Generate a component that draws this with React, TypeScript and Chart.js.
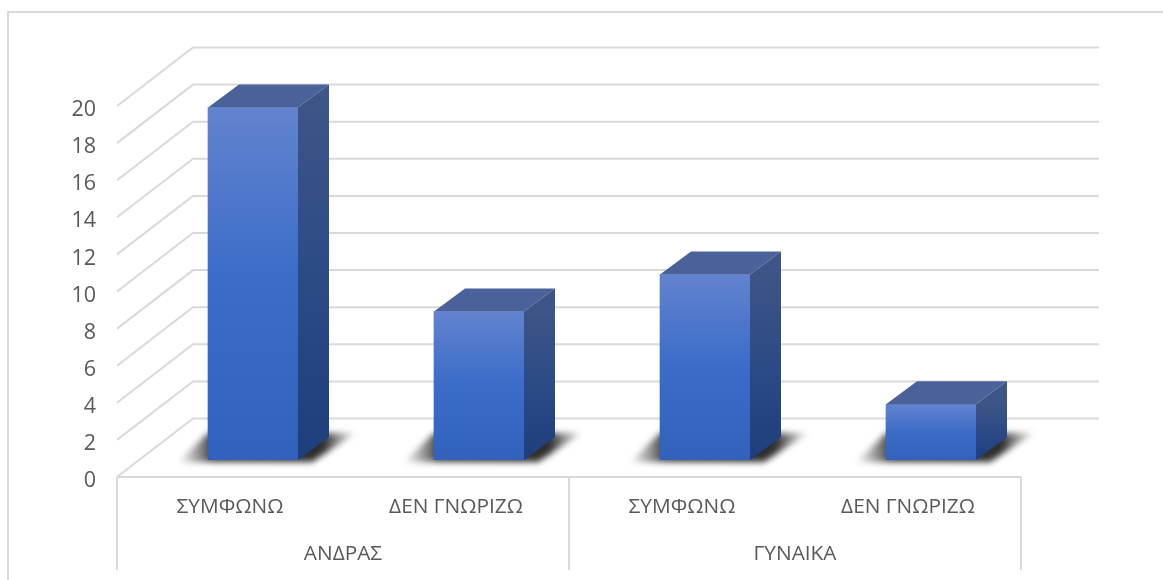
import React, { useEffect, useRef } from "react";
import { Chart, registerables } from "chart.js";

Chart.register(...registerables);

const categories = ["ΣΥΜΦΩΝΩ", "ΔΕΝ ΓΝΩΡΙΖΩ", "ΣΥΜΦΩΝΩ", "ΔΕΝ ΓΝΩΡΙΖΩ"];
const groups = ["ΑΝΔΡΑΣ", "ΓΥΝΑΙΚΑ"];
const values = [19, 8, 10, 3];

const FONT = "'Open Sans', sans-serif";
const TEXT = "#595959";
const GRID = "#d9d9d9";
const WALL_DX = 76;
const WALL_DY = -58.5;
const BAR_DX = 23;
const BAR_DY = -17;
const SIDE_DX = 31;
const SIDE_DY = -23;

function gradient(c: CanvasRenderingContext2D, x0: number, y0: number, x1: number, y1: number, stops: [number, string][]) {
  const g = c.createLinearGradient(x0, y0, x1, y1);
  stops.forEach(([o, col]) => g.addColorStop(o, col));
  return g;
}

function poly(c: CanvasRenderingContext2D, pts: number[][], fill: any) {
  c.beginPath();
  pts.forEach(([x, y], i) => (i ? c.lineTo(x, y) : c.moveTo(x, y)));
  c.closePath();
  c.fillStyle = fill;
  c.fill();
}

const scene3d = {
  id: "scene3d",
  beforeDraw(chart: any) {
    const c = chart.ctx as CanvasRenderingContext2D;
    const y = chart.scales.y;
    const x = chart.scales.x;
    c.save();
    c.fillStyle = "#ffffff";
    c.fillRect(0, 0, chart.width, chart.height);
    c.strokeStyle = GRID;
    c.lineWidth = 2;
    // outer frame
    c.beginPath();
    c.moveTo(8, 580);
    c.lineTo(8, 12);
    c.lineTo(1163, 12);
    c.stroke();
    // wall grid
    y.ticks.forEach((t: any) => {
      const py = y.getPixelForValue(t.value);
      c.beginPath();
      c.moveTo(x.left, py);
      c.lineTo(x.left + WALL_DX, py + WALL_DY);
      c.lineTo(x.right + WALL_DX + 2, py + WALL_DY);
      c.stroke();
    });
    // floor front edge and group separators
    const b = y.getPixelForValue(0);
    c.beginPath();
    c.moveTo(x.left, b);
    c.lineTo(x.right, b);
    [x.left, (x.left + x.right) / 2, x.right].forEach((sx: number) => {
      c.moveTo(sx, b);
      c.lineTo(sx, 570);
    });
    c.stroke();
    c.restore();
  },
  beforeDatasetDraw(chart: any, args: any) {
    const c = chart.ctx as CanvasRenderingContext2D;
    c.save();
    c.translate(BAR_DX, BAR_DY);
    // floor shadows
    const meta = chart.getDatasetMeta(args.index);
    meta.data.forEach((bar: any) => {
      const L = bar.x - bar.width / 2;
      const R = bar.x + bar.width / 2;
      const B = bar.base;
      c.save();
      c.filter = "blur(3px)";
      const g = gradient(c, L - 32, 0, R + 62, 0, [
        [0, "rgba(90,90,90,0)"],
        [0.2, "rgba(40,40,40,0.9)"],
        [0.8, "rgba(35,35,35,0.95)"],
        [1, "rgba(90,90,90,0)"],
      ]);
      poly(c, [[L - 30, B + 2], [R + 14, B + 2], [R + 58, B - 27], [L, B - 27]], g);
      c.restore();
    });
  },
  afterDatasetDraw(chart: any, args: any) {
    const c = chart.ctx as CanvasRenderingContext2D;
    const meta = chart.getDatasetMeta(args.index);
    meta.data.forEach((bar: any) => {
      const L = bar.x - bar.width / 2;
      const R = bar.x + bar.width / 2;
      const T = bar.y;
      const B = bar.base;
      poly(c, [[L, T], [R, T], [R + SIDE_DX, T + SIDE_DY], [L + SIDE_DX, T + SIDE_DY]], "#4a6299");
      poly(
        c,
        [[R, T], [R + SIDE_DX, T + SIDE_DY], [R + SIDE_DX, B + SIDE_DY], [R, B]],
        gradient(c, 0, T, 0, B, [[0, "#3d5587"], [0.5, "#2b4a86"], [1, "#1e3e7c"]])
      );
    });
    c.restore();
  },
};

export default function App() {
  const ref = useRef<HTMLCanvasElement>(null);
  useEffect(() => {
    const chart = new Chart(ref.current!, {
      type: "bar",
      data: {
        labels: categories,
        datasets: [
          {
            data: values,
            barThickness: 90,
            borderWidth: 0,
            backgroundColor: (ctx: any) => {
              const { chart: ch, raw } = ctx;
              const s = ch.scales.y;
              if (!s || raw === undefined) return "#3a6cc8";
              const top = s.getPixelForValue(raw);
              const bot = s.getPixelForValue(0);
              if (!Number.isFinite(top) || !Number.isFinite(bot)) return "#3a6cc8";
              return gradient(ch.ctx, 0, top, 0, bot, [
                [0, "#6283cf"],
                [0.5, "#3a6cc8"],
                [1, "#3262bb"],
              ]);
            },
          },
        ],
      } as any,
      options: {
        responsive: false,
        animation: false,
        layout: { padding: { top: 106, right: 142, left: 0, bottom: 0 } },
        plugins: { legend: { display: false }, tooltip: { enabled: false } },
        scales: {
          y: {
            min: 0,
            max: 20,
            afterFit: (s: any) => { s.width = 117; },
            border: { display: false },
            grid: { display: false, drawTicks: false },
            ticks: { stepSize: 2, padding: 21, labelOffset: 4, color: TEXT, font: { family: FONT, size: 21.5 } },
          },
          x: {
            offset: true,
            afterFit: (s: any) => { s.height = 50; },
            border: { display: false },
            grid: { display: false, drawTicks: false },
            ticks: { padding: 18, maxRotation: 0, autoSkip: false, color: TEXT, font: { family: FONT, size: 20.8 } },
          },
          x2: {
            type: "category",
            axis: "x",
            position: "bottom",
            labels: groups,
            offset: true,
            afterFit: (s: any) => { s.height = 53; },
            border: { display: false },
            grid: { display: false, drawTicks: false },
            ticks: { padding: 15, maxRotation: 0, autoSkip: false, color: TEXT, font: { family: FONT, size: 20.8 } },
          },
        },
      } as any,
      plugins: [scene3d],
    });
    return () => chart.destroy();
  }, []);
  return (
    <div style={{ position: "absolute", left: 0, top: 0, width: 1163, height: 580, background: "#fff" }}>
      <canvas ref={ref} width={1163} height={580} style={{ display: "block" }} />
    </div>
  );
}
